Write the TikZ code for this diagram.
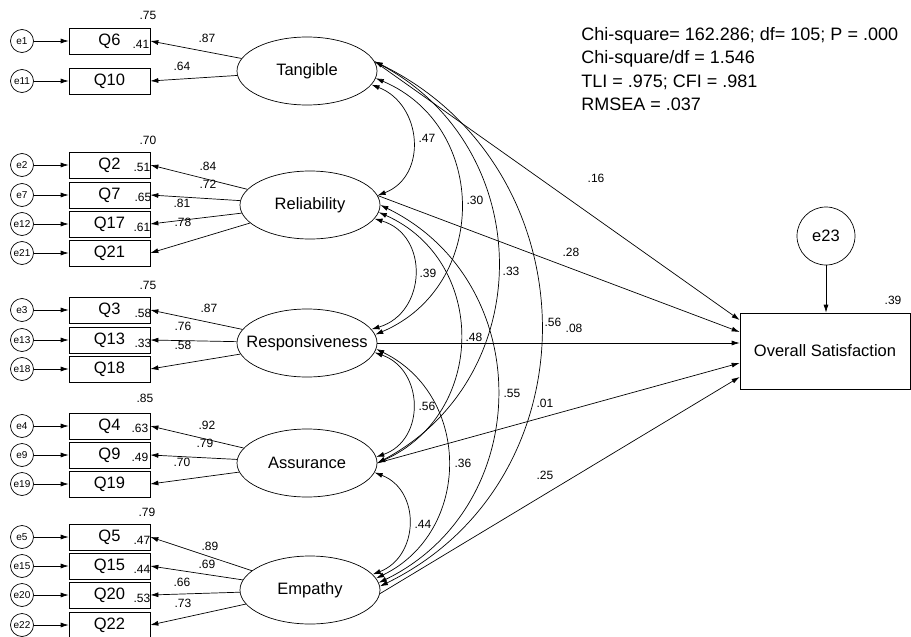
\documentclass[tikz,border=0pt]{standalone}
\usepackage{fontspec}
\setmainfont{Liberation Sans}
\usetikzlibrary{arrows.meta,shapes.geometric}
\newcommand\fBig{\fontsize{16.5}{19}\selectfont}
\newcommand\fSmall{\fontsize{12}{14}\selectfont}
\newcommand\fErr{\fontsize{10}{12}\selectfont}
\newcommand\fFit{\fontsize{18}{23}\selectfont}
\begin{document}
\begin{tikzpicture}[x=1pt,y=-1pt,>={Latex[length=8pt,width=5pt]},line width=0.7pt,
  lat/.style={ellipse,draw,minimum width=140pt,minimum height=68pt,inner sep=0pt},
  obs/.style={rectangle,draw,minimum width=81pt,minimum height=26pt,inner sep=0pt,font=\fBig},
  err/.style={circle,draw,minimum size=23pt,inner sep=0pt,font=\fErr},
  num/.style={font=\fSmall,inner sep=0pt},
  cov/.style={<->},
  fitline/.style={anchor=base west,font=\fFit,inner sep=0pt}]
\useasboundingbox (0,0) rectangle (911,637);

% latent variables
\node[lat,label={[font=\fBig]center:Tangible}] (T) at (307,71) {};
\node[lat,label={[font=\fBig]center:Reliability}] (R) at (310,205) {};
\node[lat,label={[font=\fBig]center:Responsiveness}] (Resp) at (307,343) {};
\node[lat,label={[font=\fBig]center:Assurance}] (A) at (307,463) {};
\node[lat,label={[font=\fBig]center:Empathy}] (E) at (310,590) {};

% observed items and errors
\foreach \q/\y/\e in {6/41/1, 10/81/11, 2/165/2, 7/195/7, 17/224/12, 21/253/21,
  3/310/3, 13/340/13, 18/369/18, 4/426/4, 9/455/9, 19/484/19,
  5/537/5, 15/566/15, 20/595/20, 22/625/22} {
  \node[obs] (q\q) at (109.5,\y) {Q\q};
  \node[err] (e\e) at (22,\y) {e\e};
  \draw[->] (e\e) -- (q\q);
}

% loadings
\foreach \f/\q in {T/6,T/10,R/2,R/7,R/17,R/21,Resp/3,Resp/13,Resp/18,
  A/4,A/9,A/19,E/5,E/15,E/20,E/22}
  \draw[->] (\f) -- (q\q.east);

% covariances
\draw[cov] (T.-12) to[out=-21,in=21,looseness=1.25] (R.8);
\draw[cov] (T.-6) to[out=-23,in=23,looseness=1.23] (Resp.7);
\draw[cov] (T.8) to[out=-28,in=28,looseness=1.17] (A.0);
\draw[cov] (T.8) to[out=-26,in=26,looseness=1.18] (E.3);
\draw[cov] (R.-12) to[out=-16.5,in=16.5,looseness=1.33] (Resp.12);
\draw[cov] (R.-6) to[out=-24,in=24,looseness=1.22] (A.0);
\draw[cov] (R.0) to[out=-26,in=26,looseness=1.18] (E.6);
\draw[cov] (Resp.-8) to[out=-19,in=19,looseness=1.28] (A.5);
\draw[cov] (Resp.-5) to[out=-26,in=26,looseness=1.19] (E.10);
\draw[cov] (A.-8) to[out=-21,in=21,looseness=1.25] (E.14);

% outcome
\node[draw,rectangle,minimum width=170pt,minimum height=76pt,inner sep=0pt,font=\fBig] (OS) at (825,351) {Overall Satisfaction};
\node[circle,draw,minimum size=58pt,inner sep=0pt,font=\fBig] (e23) at (826,236) {e23};
\draw[->] (e23.south) -- (e23.south |- OS.north);

\draw[->] (T.8) -- ([yshift=31pt]OS.west);
\draw[->] (R.8) -- ([yshift=19pt]OS.west);
\draw[->] (Resp.0) -- ([yshift=8pt]OS.west);
\draw[->] (A.0) -- ([yshift=-12pt]OS.west);
\draw[->] (E.-3) -- ([yshift=-26pt]OS.west);

% numbers
\foreach \x/\y/\t [count=\i] in {148/15/.75, 141/44/.41, 148/140/.70, 142/167/.51,
  143/197/.65, 142/227/.61, 148/285/.75, 143/313/.58, 143/343/.33, 145/398/.85,
  140/428/.63, 140/457/.49, 147/512/.79, 142/540/.47, 142/569/.44, 142/598/.53,
  207/38/.87, 182/66/.64, 208/166/.84, 208/184/.72, 182/203/.81, 183/222/.78,
  209/308/.87, 183/326/.76, 183/345/.58, 207/425/.92, 205/443/.79, 182/462/.70,
  210/546/.89, 207/564/.69, 182/582/.66, 183/603/.73,
  427/138/.47, 475/200/.30, 511/271/.33, 553/322/.56, 428/273/.39, 474/337/.48,
  512/393/.55, 427/406/.56, 463/463/.36, 423/524/.44,
  596/178/.16, 571/252/.28, 574/328/.08, 545/403/.01, 545/475/.25, 893/300/.39}
  \node[num] (n\i) at (\x,\y) {\t};

% fit indices
\node[fitline] (fit1) at (581,40) {Chi-square= 162.286; df= 105; P = .000};
\node[fitline] (fit2) at (581,63.5) {Chi-square/df = 1.546};
\node[fitline] (fit3) at (581,87) {TLI = .975; CFI = .981};
\node[fitline] (fit4) at (581,110.5) {RMSEA = .037};
\end{tikzpicture}
\end{document}
